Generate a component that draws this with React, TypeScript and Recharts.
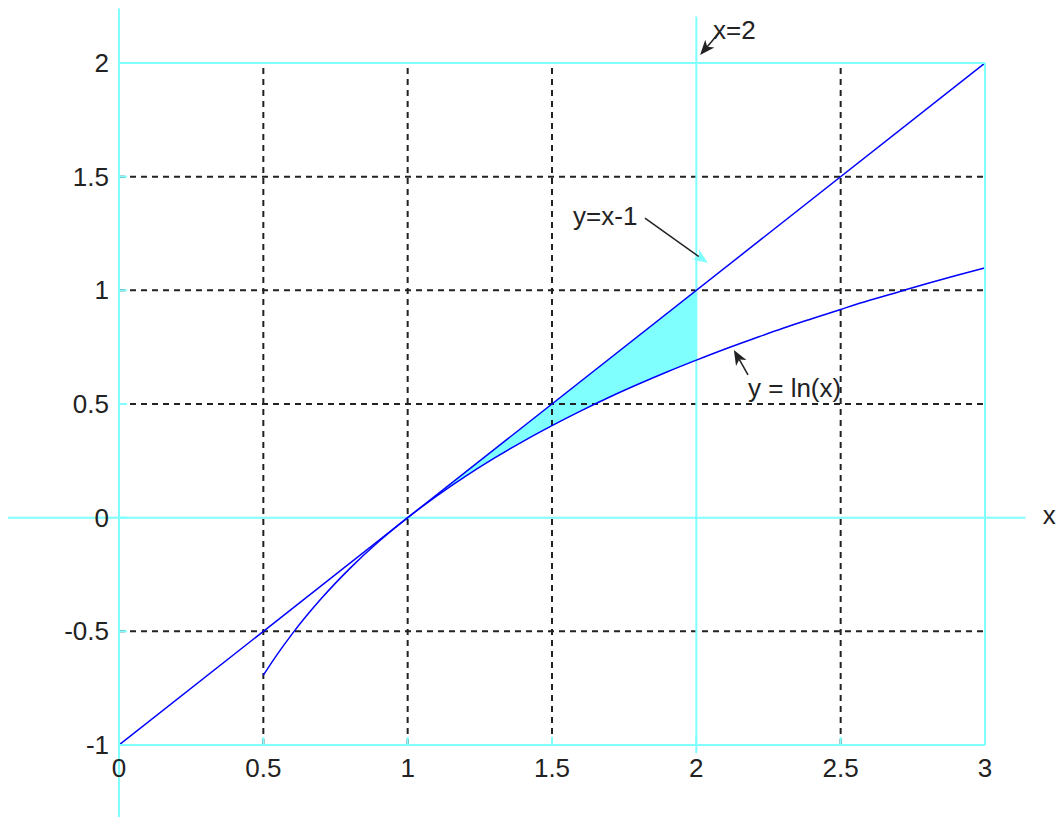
import {
  ComposedChart,
  Line,
  Area,
  XAxis,
  YAxis,
  ReferenceLine,
  ReferenceDot,
} from 'recharts';

const CYAN = '#80ffff';
const BLUE = '#0000ff';
const INK = '#222222';
const FONT = '"Liberation Sans", Arial, sans-serif';

// ticks
const xTicks = [0, 0.5, 1, 1.5, 2, 2.5, 3];
const yTicks = [-1, -0.5, 0, 0.5, 1, 1.5, 2];
// dashed grid lines (0 and x=2 are covered by the cyan lines)
const xGrid = [0.5, 1, 1.5, 2.5];
const yGrid = [-0.5, 0.5, 1, 1.5];

// y = x - 1
const lineX = [0, 3];
const lineY = [-1, 2];

// y = ln(x)
const lnX = [0.5, 0.55, 0.6, 0.7, 0.8, 0.9, 1, 1.1, 1.2, 1.3, 1.4, 1.5, 1.6, 1.7, 1.8, 1.9, 2, 2.1, 2.2, 2.3, 2.4, 2.5, 2.6, 2.7, 2.8, 2.9, 3];
const lnY = [-0.693, -0.598, -0.511, -0.357, -0.223, -0.105, 0, 0.095, 0.182, 0.262, 0.336, 0.405, 0.47, 0.531, 0.588, 0.642, 0.693, 0.742, 0.788, 0.833, 0.875, 0.916, 0.956, 0.993, 1.03, 1.065, 1.099];

// shaded band between the curves, 1 <= x <= 2
const bandX = [1, 1.1, 1.2, 1.3, 1.4, 1.5, 1.6, 1.7, 1.8, 1.9, 2];
const bandLow = [0, 0.095, 0.182, 0.262, 0.336, 0.405, 0.47, 0.531, 0.588, 0.642, 0.693];
const bandHigh = [0, 0.1, 0.2, 0.3, 0.4, 0.5, 0.6, 0.7, 0.8, 0.9, 1];

const lineData = lineX.map((x, i) => ({ x, y: lineY[i] }));
const lnData = lnX.map((x, i) => ({ x, y: lnY[i] }));
const bandData = bandX.map((x, i) => ({ x, range: [bandLow[i], bandHigh[i]] }));

const fmt = (v: number) => String(v);

const XTick = (props: any) => (
  <text x={props.x} y={props.y} textAnchor="middle" dominantBaseline="central" fill={INK} fontSize={26} fontFamily={FONT}>
    {fmt(props.payload.value)}
  </text>
);

const YTick = (props: any) => (
  <text x={props.x} y={props.y} textAnchor="end" dominantBaseline="central" fill={INK} fontSize={26} fontFamily={FONT}>
    {fmt(props.payload.value)}
  </text>
);

// arrow with a filled head at the second point
const arrow = (headColor: string) => (props: any) => {
  const { x1, y1, x2, y2 } = props;
  const dx = x2 - x1;
  const dy = y2 - y1;
  const len = Math.sqrt(dx * dx + dy * dy) || 1;
  const ux = dx / len;
  const uy = dy / len;
  const hl = 15;
  const hw = 6;
  const bx = x2 - ux * hl;
  const by = y2 - uy * hl;
  const pts = `${x2},${y2} ${bx - uy * hw},${by + ux * hw} ${bx + ux * 4},${by + uy * 4} ${bx + uy * hw},${by - ux * hw}`;
  return (
    <g>
      <line x1={x1} y1={y1} x2={bx + ux * 4} y2={by + uy * 4} stroke={INK} strokeWidth={1.5} />
      <polygon points={pts} fill={headColor} />
    </g>
  );
};

const label = (text: string) => (props: any) => (
  <text x={props.cx} y={props.cy} dominantBaseline="central" fill={INK} fontSize={26} fontFamily={FONT}>
    {text}
  </text>
);

export default function App() {
  return (
    <div style={{ position: 'absolute', left: 0, top: 0, width: 1056, height: 817, background: '#fff' }}>
      <ComposedChart width={1056} height={817} margin={{ top: 62, right: 70, bottom: 71, left: 118 }}>
        <XAxis
          dataKey="x"
          type="number"
          domain={[0, 3]}
          ticks={xTicks}
          allowDataOverflow
          height={1}
          axisLine={{ stroke: CYAN, strokeWidth: 2 }}
          tickLine={{ stroke: CYAN, strokeWidth: 2 }}
          tickSize={-8}
          tickMargin={31}
          tick={XTick}
        />
        <XAxis
          xAxisId="top"
          orientation="top"
          dataKey="x"
          type="number"
          domain={[0, 3]}
          ticks={xTicks}
          allowDataOverflow
          height={1}
          axisLine={{ stroke: CYAN, strokeWidth: 2 }}
          tickLine={{ stroke: CYAN, strokeWidth: 2 }}
          tickSize={-8}
          tick={false}
        />
        <YAxis
          type="number"
          domain={[-1, 2]}
          ticks={yTicks}
          allowDataOverflow
          width={1}
          axisLine={false}
          tickLine={{ stroke: CYAN, strokeWidth: 2 }}
          tickSize={-8}
          tickMargin={18}
          tick={YTick}
        />
        <YAxis
          yAxisId="right"
          orientation="right"
          type="number"
          domain={[-1, 2]}
          ticks={yTicks}
          allowDataOverflow
          width={1}
          axisLine={{ stroke: CYAN, strokeWidth: 2 }}
          tickLine={{ stroke: CYAN, strokeWidth: 2 }}
          tickSize={-8}
          tick={false}
        />
        {xGrid.map((v) => (
          <ReferenceLine key={'gx' + v} x={v} stroke={INK} strokeWidth={2} strokeDasharray="6 5" />
        ))}
        {yGrid.map((v) => (
          <ReferenceLine key={'gy' + v} y={v} stroke={INK} strokeWidth={2} strokeDasharray="6 5" />
        ))}
        <Area
          data={bandData}
          dataKey="range"
          type="monotone"
          fill={CYAN}
          fillOpacity={1}
          stroke="none"
          isAnimationActive={false}
        />
        <ReferenceLine segment={[{ x: 0, y: 2.24 }, { x: 0, y: -1.32 }]} stroke={CYAN} strokeWidth={2} ifOverflow="visible" />
        <ReferenceLine segment={[{ x: -0.385, y: 0 }, { x: 3.14, y: 0 }]} stroke={CYAN} strokeWidth={2} ifOverflow="visible" />
        <ReferenceLine segment={[{ x: 2, y: 2.205 }, { x: 2, y: -1.035 }]} stroke={CYAN} strokeWidth={2} ifOverflow="visible" />
        <Line data={lineData} dataKey="y" type="linear" stroke={BLUE} strokeWidth={1.5} dot={false} isAnimationActive={false} />
        <Line data={lnData} dataKey="y" type="monotone" stroke={BLUE} strokeWidth={1.5} dot={false} isAnimationActive={false} />
        <ReferenceLine segment={[{ x: 2.078, y: 2.132 }, { x: 2.013, y: 2.035 }]} ifOverflow="visible" shape={arrow(INK)} />
        <ReferenceLine segment={[{ x: 1.822, y: 1.318 }, { x: 2.04, y: 1.12 }]} ifOverflow="visible" shape={arrow(CYAN)} />
        <ReferenceLine segment={[{ x: 2.179, y: 0.628 }, { x: 2.13, y: 0.738 }]} ifOverflow="visible" shape={arrow(INK)} />
        <ReferenceDot x={2.058} y={2.145} r={0} ifOverflow="visible" shape={label('x=2')} />
        <ReferenceDot x={1.573} y={1.327} r={0} ifOverflow="visible" shape={label('y=x-1')} />
        <ReferenceDot x={2.179} y={0.57} r={0} ifOverflow="visible" shape={label('y = ln(x)')} />
        <ReferenceDot x={3.2} y={0.01} r={0} ifOverflow="visible" shape={label('x')} />
      </ComposedChart>
    </div>
  );
}
